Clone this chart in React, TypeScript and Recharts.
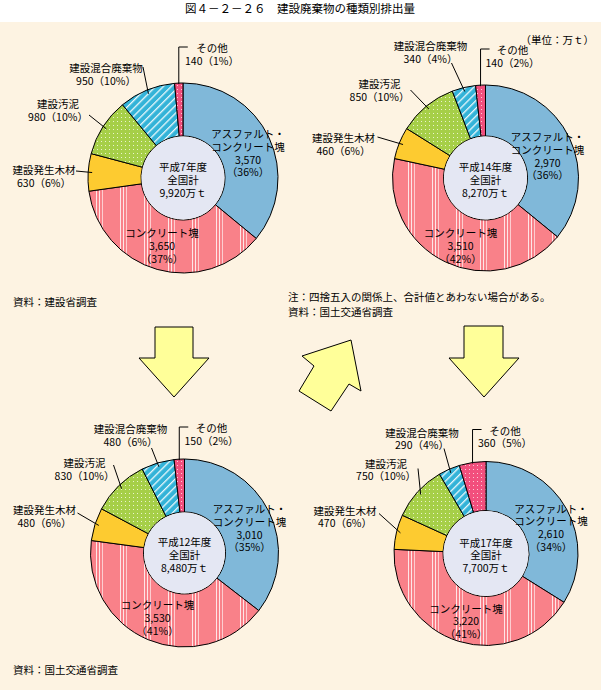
import React from 'react';
import { PieChart, Pie, Cell } from 'recharts';

// ---- data ----
const categories = ['アスファルト・コンクリート塊', 'コンクリート塊', '建設発生木材', '建設汚泥', '建設混合廃棄物', 'その他'];
const yearLabels = ['平成7年度', '平成14年度', '平成12年度', '平成17年度'];
const valuesH7 = [3570, 3650, 630, 980, 950, 140];
const percentH7 = [36, 37, 6, 10, 10, 1];
const valuesH14 = [2970, 3510, 460, 850, 340, 140];
const percentH14 = [36, 42, 6, 10, 4, 2];
const valuesH12 = [3010, 3530, 480, 830, 480, 150];
const percentH12 = [35, 41, 6, 10, 6, 2];
const valuesH17 = [2610, 3220, 470, 750, 290, 360];
const percentH17 = [34, 41, 6, 10, 4, 5];

const titleText = '図４－２－２６　建設廃棄物の種類別排出量';
const unitText = '（単位：万ｔ）';
const sourceOld = '資料：建設省調査';
const noteText = '注：四捨五入の関係上、合計値とあわない場合がある。';
const sourceNew = '資料：国土交通省調査';

// ---- style / layout ----
const W = 601;
const H = 690;
const FONT = "'Noto Sans CJK JP', 'Noto Sans', sans-serif";
const FS = 10.5;
const LH = 12.8;
const BG = '#fdf3e2';
const sliceFills = ['#80b8d9', 'url(#pConc)', '#fdcb30', 'url(#pSludge)', 'url(#pMixed)', 'url(#pOther)'];
const DISC = '#e4e7f3';
const RAD = Math.PI / 180;

type Layout = {
  year: string; values: number[]; pct: number[];
  cx: number; cy: number; outer: number; inner: number;
  labels: number[][]; leaders: (number[] | null)[];
};

const charts: Layout[] = [
  {
    year: yearLabels[0], values: valuesH7, pct: percentH7, cx: 183, cy: 178, outer: 95, inner: 42,
    labels: [[65, -45], [-21, 54], [-139, -9], [-125, -75], [-77, -111], [29, -131]],
    leaders: [null, null, [-107, -7], [-94, -63], [-40, -111], null],
  },
  {
    year: yearLabels[1], values: valuesH14, pct: percentH14, cx: 485.5, cy: 178, outer: 93, inner: 42,
    labels: [[62, -42], [-25, 54], [-142, -41], [-106, -95], [-55, -133], [27, -129]],
    leaders: [null, null, [-108, -41], [-75, -88], [-34, -115], null],
  },
  {
    year: yearLabels[2], values: valuesH12, pct: percentH12, cx: 184.5, cy: 553, outer: 94, inner: 41,
    labels: [[65, -45], [-27, 51], [-140, -44], [-100, -91], [-54, -125], [27, -126]],
    leaders: [null, null, [-107, -40], [-71, -88], [-33, -105], null],
  },
  {
    year: yearLabels[3], values: valuesH17, pct: percentH17, cx: 486, cy: 553.5, outer: 92, inner: 43,
    labels: [[65, -46], [-20, 54], [-141, -44], [-100, -91], [-64, -122], [19, -124]],
    leaders: [null, null, [-107, -40], [-68, -85], [-42, -105], null],
  },
];

const fmt = (v: number) => v.toLocaleString('en-US');

function Lines({ x, y, lines }: { x: number; y: number; lines: string[] }) {
  return (
    <text x={x} y={y} textAnchor="middle" dominantBaseline="central"
      fontSize={FS} fontFamily={FONT} fill="#000" stroke="none">
      {lines.map((t, i) => (
        <tspan key={i} x={x} dy={i === 0 ? 0 : LH}>{t}</tspan>
      ))}
    </text>
  );
}

function makeSliceLabel(ch: Layout) {
  return (props: any) => {
    const { cx, cy, midAngle, outerRadius, index } = props;
    const [dx, dy] = ch.labels[index];
    const x = cx + dx;
    const y = cy + dy;
    const val = fmt(ch.values[index]);
    const pct = `（${ch.pct[index]}%）`;
    const name = categories[index];
    let lines: string[];
    if (index === 0) {
      const parts = name.split('・');
      lines = [parts[0] + '・', parts[1], val, pct];
    } else if (index === 1) {
      lines = [name, val, pct];
    } else {
      lines = [name, `${val}${pct}`];
    }
    let leader: React.ReactNode = null;
    const ca = Math.cos(-midAngle * RAD);
    const sa = Math.sin(-midAngle * RAD);
    if (index === 5) {
      const px = cx + outerRadius * ca;
      const py = cy + outerRadius * sa;
      leader = (
        <polyline points={`${px},${py + 1} ${px},${y} ${px + 9},${y}`} fill="none" stroke="#000" strokeWidth={1} />
      );
    } else if (ch.leaders[index]) {
      const [sx, sy] = ch.leaders[index] as number[];
      const r = outerRadius - 4;
      leader = (
        <line x1={cx + sx} y1={cy + sy} x2={cx + r * ca} y2={cy + r * sa} stroke="#000" strokeWidth={1} />
      );
    }
    return (
      <g key={`lbl-${index}`}>
        {leader}
        <Lines x={x} y={y} lines={lines} />
      </g>
    );
  };
}

function makeCenterLabel(ch: Layout) {
  const total = ch.values.reduce((a, b) => a + b, 0);
  return (props: any) => {
    const { cx, cy } = props;
    return <Lines key="center" x={cx} y={cy - 12} lines={[ch.year, '全国計', `${fmt(total)}万ｔ`]} />;
  };
}

const arrowDown1 = '155,327 193,327 193,358 209,358 174,397 139,358 155,358';
const arrowDiag = '302,356 351,340 361,391 349,384 331,411 299,391 314,366';
const arrowDown2 = '464,326 503,326 503,358 519,358 484,397 449,358 464,358';

export default function App() {
  const pies: React.ReactNode[] = [];
  charts.forEach((ch, ci) => {
    const data = ch.values.map((v, i) => ({ name: categories[i], value: v }));
    pies.push(
      <Pie key={`ring-${ci}`} data={data} dataKey="value" nameKey="name" cx={ch.cx} cy={ch.cy}
        innerRadius={ch.inner} outerRadius={ch.outer} startAngle={90} endAngle={-270}
        stroke="#000" strokeWidth={1} isAnimationActive={false}
        label={makeSliceLabel(ch)} labelLine={false}>
        {data.map((d, i) => <Cell key={i} fill={sliceFills[i]} stroke="#000" strokeWidth={1} />)}
      </Pie>
    );
    pies.push(
      <Pie key={`disc-${ci}`} data={[{ name: 'total', value: 1 }]} dataKey="value" cx={ch.cx} cy={ch.cy}
        innerRadius={0} outerRadius={ch.inner - 0.5} startAngle={90} endAngle={-270}
        fill={DISC} stroke="none" isAnimationActive={false}
        label={makeCenterLabel(ch)} labelLine={false} />
    );
  });

  return (
    <div style={{ position: 'absolute', left: 0, top: 0, width: W, height: H, background: BG, overflow: 'hidden' }}>
      <svg width={0} height={0} style={{ position: 'absolute' }}>
        <defs>
          <pattern id="pConc" patternUnits="userSpaceOnUse" width={24} height={4}>
            <rect width={24} height={4} fill="#f98189" />
            <rect x={0} width={1} height={4} fill="#fff" opacity={0.8} />
            <rect x={3} width={1} height={4} fill="#fff" opacity={0.8} />
            <rect x={6} width={1} height={4} fill="#fff" opacity={0.6} />
          </pattern>
          <pattern id="pSludge" patternUnits="userSpaceOnUse" width={4} height={4}>
            <rect width={4} height={4} fill="#a6cf48" />
            <rect x={1} y={1} width={1} height={1} fill="#f2f9dc" opacity={0.9} />
          </pattern>
          <pattern id="pMixed" patternUnits="userSpaceOnUse" width={5.5} height={5.5} patternTransform="rotate(45)">
            <rect width={5.5} height={5.5} fill="#33b3d8" />
            <rect x={0} width={1.3} height={5.5} fill="#fff" opacity={0.9} />
          </pattern>
          <pattern id="pOther" patternUnits="userSpaceOnUse" width={4} height={4}>
            <rect width={4} height={4} fill="#f24f7d" />
            <rect x={1} y={1} width={1} height={1} fill="#fff" opacity={0.7} />
          </pattern>
        </defs>
      </svg>
      <svg width={W} height={H} style={{ position: 'absolute', left: 0, top: 0 }}>
        <rect x={0} y={0} width={W} height={22} fill="#fff" />
        <text x={300} y={7.5} textAnchor="middle" dominantBaseline="central" fontSize={11.5} fontFamily={FONT}>{titleText}</text>
        <text x={594} y={39} textAnchor="end" dominantBaseline="central" fontSize={FS} fontFamily={FONT}>{unitText}</text>
        <text x={13} y={301} dominantBaseline="central" fontSize={FS} fontFamily={FONT}>{sourceOld}</text>
        <text x={288} y={296} dominantBaseline="central" fontSize={FS} fontFamily={FONT}>{noteText}</text>
        <text x={288} y={311} dominantBaseline="central" fontSize={FS} fontFamily={FONT}>{sourceNew}</text>
        <text x={13} y={669} dominantBaseline="central" fontSize={FS} fontFamily={FONT}>{sourceNew}</text>
        <polygon points={arrowDown1} fill="#ffff99" stroke="#000" strokeWidth={1} />
        <polygon points={arrowDiag} fill="#ffff99" stroke="#000" strokeWidth={1} />
        <polygon points={arrowDown2} fill="#ffff99" stroke="#000" strokeWidth={1} />
      </svg>
      <div style={{ position: 'absolute', left: 0, top: 0 }}>
        <PieChart width={W} height={H} margin={{ top: 0, right: 0, bottom: 0, left: 0 }}>
          {pies}
        </PieChart>
      </div>
    </div>
  );
}
